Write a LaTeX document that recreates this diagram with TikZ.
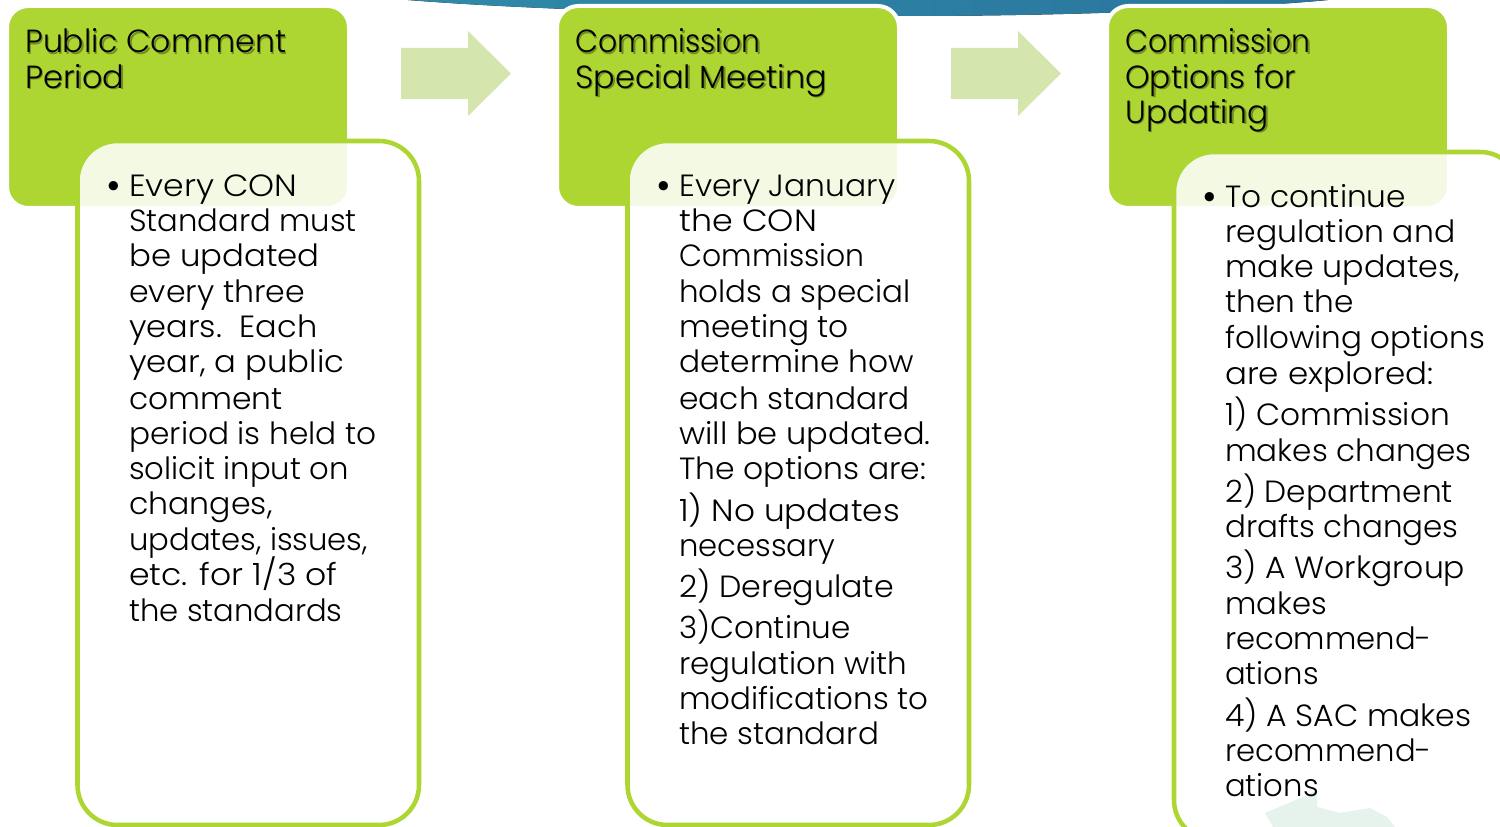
\documentclass[tikz,border=0pt]{standalone}
\usepackage{fontspec}
\setmainfont{Poppins}[UprightFont=* Light]
\definecolor{lime}{HTML}{ADD633}
\definecolor{arrowgreen}{HTML}{D4E5AE}
\definecolor{land}{HTML}{E6F2EC}
\definecolor{tealL}{HTML}{2F8AA9}
\definecolor{tealR}{HTML}{2A749D}
\newcommand{\fitw}[2]{\scalebox{#1}[1]{#2}}
\tikzset{
  x=0.75pt,y=-0.75pt,
  headbox/.style={fill=lime,draw=white,line width=3pt,rounded corners=16pt},
  bodybox/.style={draw=lime,fill=white,fill opacity=.87,draw opacity=1,line width=3.4pt,rounded corners=30pt},
  blockarrow/.style={fill=arrowgreen,draw=none},
  titletext/.style={anchor=base west,inner sep=0pt,font=\fontsize{24}{24}\selectfont,text=black},
  titleshade/.style={titletext,text=black,text opacity=.35},
  bodytext/.style={anchor=base west,inner sep=0pt,font=\fontsize{23}{23}\selectfont,text=black},
  bullet/.style={anchor=center,inner sep=0pt,font=\fontsize{30}{30}\selectfont,text=black}
}
\begin{document}
\begin{tikzpicture}
\useasboundingbox (0,0) rectangle (1500,827);
% banner
\fill[left color=tealL,right color=tealR]
  (408,0) .. controls (520,9) and (700,15) .. (900,16) .. controls (1080,16) and (1230,9) .. (1328,0) -- cycle;
% header boxes
\draw[headbox] (7,6) rectangle (349,208);
\draw[headbox] (557,6) rectangle (899,208);
\draw[headbox] (1107,6) rectangle (1449,208);
% arrows
\fill[blockarrow] (401,48) -- (468,48) -- (468,31) -- (511,73.5) -- (468,116) -- (468,99) -- (401,99) -- cycle;
\fill[blockarrow] (951,48) -- (1018,48) -- (1018,31) -- (1061,73.5) -- (1018,116) -- (1018,99) -- (951,99) -- cycle;
% body boxes
\draw[bodybox] (77.5,141) rectangle (419,825);
\draw[bodybox] (627.5,141) rectangle (969,825);
\draw[bodybox] (1174,152) rectangle (1520,840);
% land
\fill[land] (1265,813) -- (1303,797) -- (1317,790) -- (1317,807) -- (1340,813) -- (1370,808) -- (1387,817) -- (1395,827) -- (1273,827) -- cycle;
% title shadows
\node[titleshade] (s1a) at (26.5,54.5) {\fitw{.985}{Public Comment}};
\node[titleshade] (s1b) at (26.5,90) {Period};
\node[titleshade] (s2a) at (576.5,54.5) {\fitw{.934}{Commission}};
\node[titleshade] (s2b) at (576.5,90) {Special Meeting};
\node[titleshade] (s3a) at (1126.5,54.5) {\fitw{.934}{Commission}};
\node[titleshade] (s3b) at (1126.5,90) {\fitw{.98}{Options for}};
\node[titleshade] (s3c) at (1126.5,125) {\fitw{.98}{Updating}};
% titles
\node[titletext] (t1a) at (25,53) {\fitw{.985}{Public Comment}};
\node[titletext] (t1b) at (25,88.5) {Period};
\node[titletext] (t2a) at (575,53) {\fitw{.934}{Commission}};
\node[titletext] (t2b) at (575,88.5) {Special Meeting};
\node[titletext] (t3a) at (1125,53) {\fitw{.934}{Commission}};
\node[titletext] (t3b) at (1125,88.5) {\fitw{.98}{Options for}};
\node[titletext] (t3c) at (1125,123.5) {\fitw{.98}{Updating}};
% column 1
\node[bullet] (b1) at (114,191) {•};
\node[bodytext] (a01) at (129,197) {\fitw{1.077}{Every CON}};
\node[bodytext] (a02) at (129,232) {Standard must};
\node[bodytext] (a03) at (129,267) {\fitw{1.056}{be updated}};
\node[bodytext] (a04) at (129,303) {\fitw{1.03}{every three}};
\node[bodytext] (a05) at (129,338) {\fitw{1.045}{years.\ \ Each}};
\node[bodytext] (a06) at (129,373) {\fitw{1.054}{year, a public}};
\node[bodytext] (a07) at (129,409) {\fitw{1.02}{comment}};
\node[bodytext] (a08) at (129,444) {\fitw{1.017}{period is held to}};
\node[bodytext] (a09) at (129,479) {solicit input on};
\node[bodytext] (a10) at (129,514) {\fitw{1.03}{changes,}};
\node[bodytext] (a11) at (129,550) {updates, issues,};
\node[bodytext] (a12) at (129,585) {\fitw{1.078}{etc. for 1/3 of}};
\node[bodytext] (a13) at (129,621) {the standards};
% column 2
\node[bullet] (b2) at (664,191) {•};
\node[bodytext] (c01) at (679,197) {\fitw{1.024}{Every January}};
\node[bodytext] (c02) at (679,232) {\fitw{1.087}{the CON}};
\node[bodytext] (c03) at (679,267) {\fitw{.974}{Commission}};
\node[bodytext] (c04) at (679,303) {\fitw{1.01}{holds a special}};
\node[bodytext] (c05) at (679,338) {\fitw{1.018}{meeting to}};
\node[bodytext] (c06) at (679,373) {\fitw{1.02}{determine how}};
\node[bodytext] (c07) at (679,409) {\fitw{1.02}{each standard}};
\node[bodytext] (c08) at (679,444) {\fitw{1.046}{will be updated.}};
\node[bodytext] (c09) at (679,479) {\fitw{1.025}{The options are:}};
\node[bodytext] (c10) at (679,521) {\fitw{1.068}{1) No updates}};
\node[bodytext] (c11) at (679,556) {necessary};
\node[bodytext] (c12) at (679,597) {\fitw{1.034}{2) Deregulate}};
\node[bodytext] (c13) at (679,638) {\fitw{1.012}{3)Continue}};
\node[bodytext] (c14) at (679,674) {\fitw{1.01}{regulation with}};
\node[bodytext] (c15) at (679,709) {\fitw{1.008}{modifications to}};
\node[bodytext] (c16) at (679,744) {\fitw{1.01}{the standard}};
% column 3
\node[bullet] (b3) at (1210,202) {•};
\node[bodytext] (d01) at (1225,208) {\fitw{1.017}{To continue}};
\node[bodytext] (d02) at (1225,243) {\fitw{1.026}{regulation and}};
\node[bodytext] (d03) at (1225,278) {\fitw{1.035}{make updates,}};
\node[bodytext] (d04) at (1225,313) {\fitw{1.016}{then the}};
\node[bodytext] (d05) at (1225,349) {\fitw{1.012}{following options}};
\node[bodytext] (d06) at (1225,384) {\fitw{1.06}{are explored:}};
\node[bodytext] (d07) at (1225,425) {\fitw{1.018}{1) Commission}};
\node[bodytext] (d08) at (1225,461) {\fitw{1.012}{makes changes}};
\node[bodytext] (d09) at (1225,502) {\fitw{1.018}{2) Department}};
\node[bodytext] (d10) at (1225,537) {\fitw{1.01}{drafts changes}};
\node[bodytext] (d11) at (1225,578) {\fitw{1.025}{3) A Workgroup}};
\node[bodytext] (d12) at (1225,614) {makes};
\node[bodytext] (d13) at (1225,649) {recommend-};
\node[bodytext] (d14) at (1225,684) {ations};
\node[bodytext] (d15) at (1225,726) {\fitw{1.028}{4) A SAC makes}};
\node[bodytext] (d16) at (1225,761) {recommend-};
\node[bodytext] (d17) at (1225,796) {ations};
\end{tikzpicture}
\end{document}
